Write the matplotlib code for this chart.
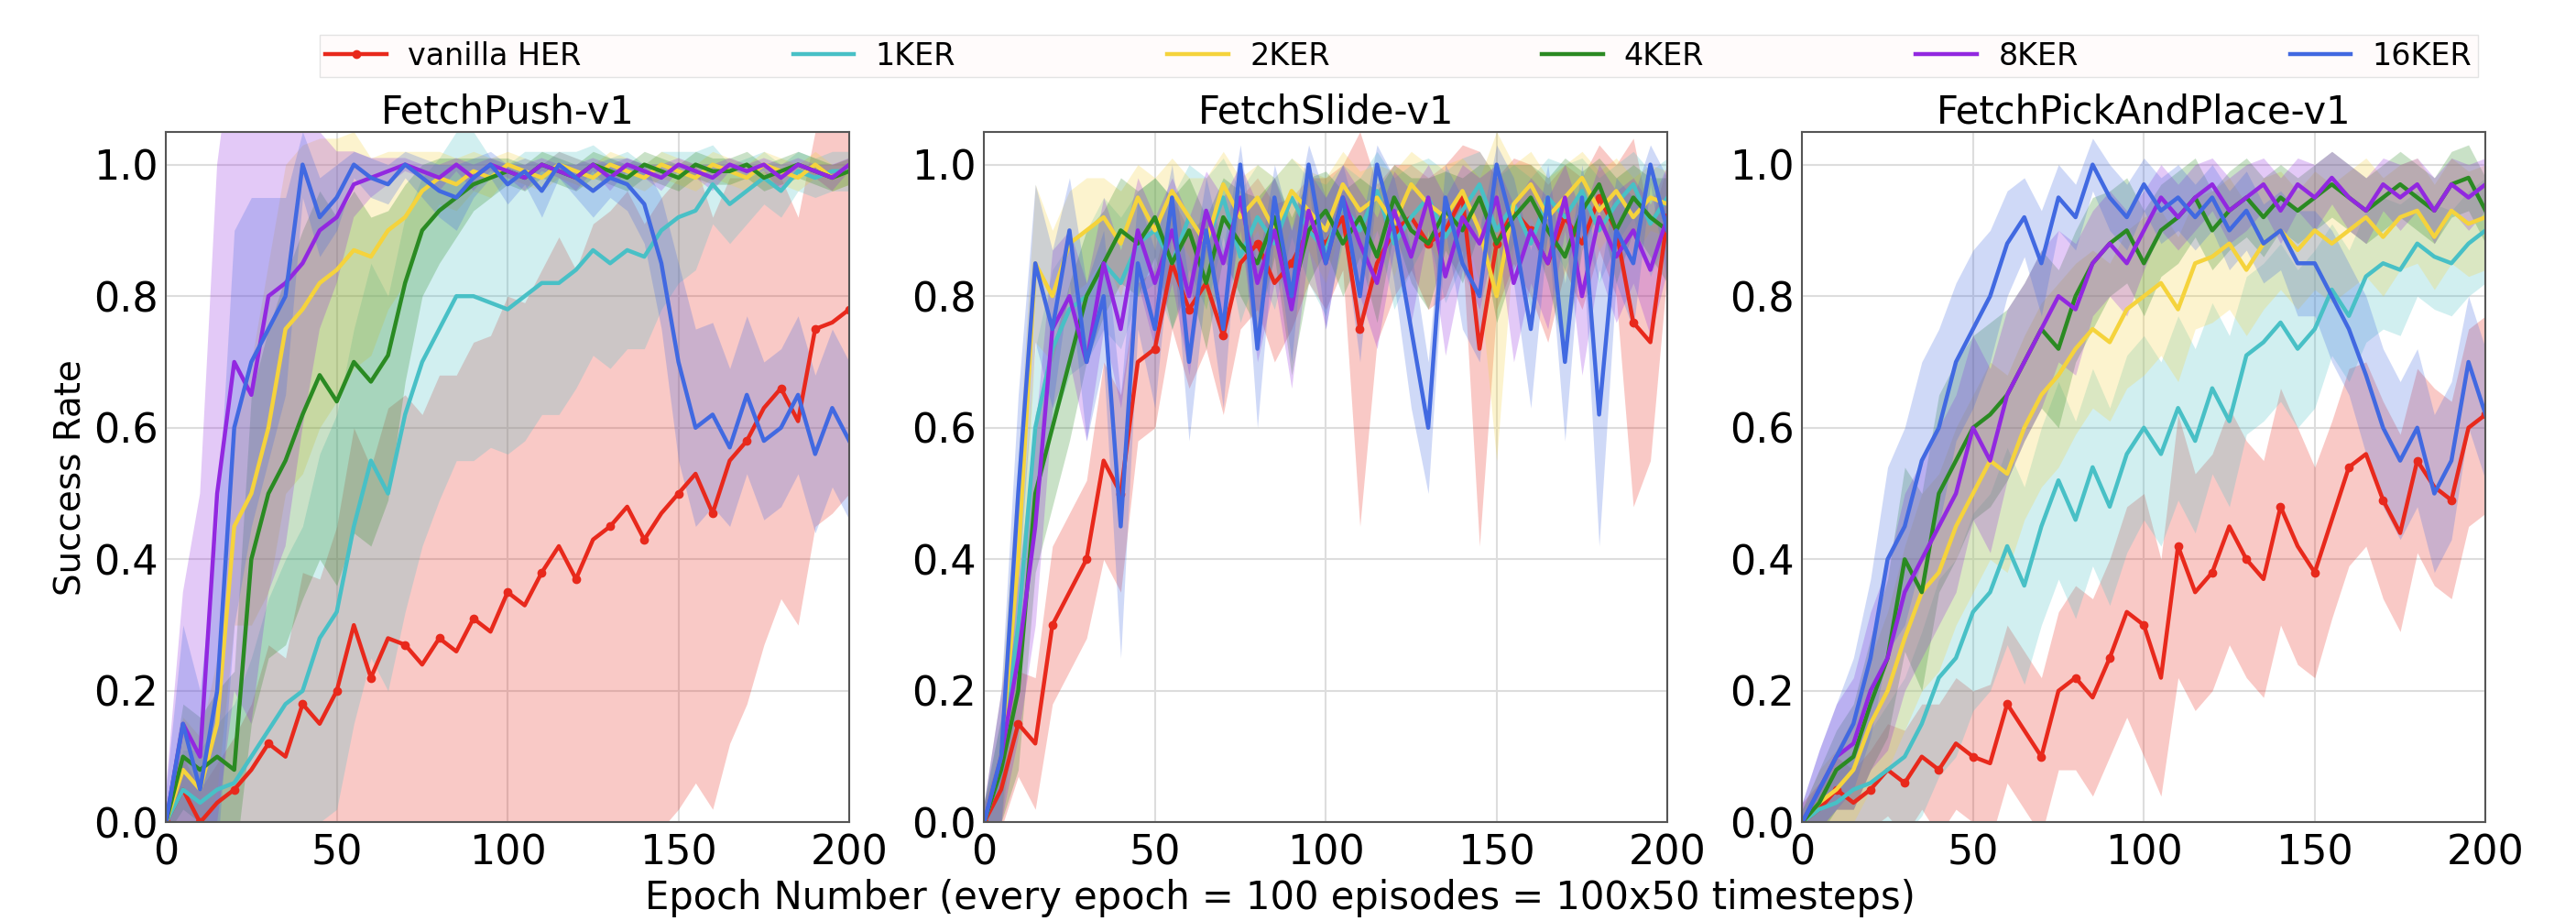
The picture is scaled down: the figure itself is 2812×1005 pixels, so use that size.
import numpy as np
import matplotlib
matplotlib.use('Agg')
import matplotlib.pyplot as plt

# epochs sampled every 5
epochs = list(range(0, 201, 5))

labels = ['vanilla HER', '1KER', '2KER', '4KER', '8KER', '16KER']
colors = ['#e8291c', '#48c0c6', '#f5d33c', '#2a8a22', '#9228e0', '#4169e1']
titles = ['FetchPush-v1', 'FetchSlide-v1', 'FetchPickAndPlace-v1']

# --- FetchPush-v1 ---
push_her = [0.0, 0.05, 0.0, 0.03, 0.05, 0.08, 0.12, 0.10, 0.18, 0.15, 0.20, 0.30, 0.22, 0.28,
            0.27, 0.24, 0.28, 0.26, 0.31, 0.29, 0.35, 0.33, 0.38, 0.42, 0.37, 0.43, 0.45, 0.48,
            0.43, 0.47, 0.50, 0.53, 0.47, 0.55, 0.58, 0.63, 0.66, 0.61, 0.75, 0.76, 0.78]
push_her_sd = [0.02, 0.05, 0.05, 0.06, 0.08, 0.10, 0.15, 0.15, 0.20, 0.22, 0.25, 0.30, 0.32, 0.35,
               0.38, 0.38, 0.40, 0.42, 0.42, 0.45, 0.45, 0.46, 0.46, 0.47, 0.47, 0.48, 0.48, 0.48,
               0.48, 0.48, 0.48, 0.47, 0.45, 0.43, 0.40, 0.36, 0.32, 0.31, 0.30, 0.29, 0.28]
push_1k = [0.0, 0.05, 0.03, 0.05, 0.06, 0.10, 0.14, 0.18, 0.20, 0.28, 0.32, 0.45, 0.55, 0.50,
           0.62, 0.70, 0.75, 0.80, 0.80, 0.79, 0.78, 0.80, 0.82, 0.82, 0.84, 0.87, 0.85, 0.87,
           0.86, 0.90, 0.92, 0.93, 0.97, 0.94, 0.96, 0.98, 0.96, 0.99, 0.98, 0.99, 0.99]
push_1k_sd = [0.02, 0.06, 0.08, 0.10, 0.12, 0.15, 0.20, 0.22, 0.25, 0.28, 0.30, 0.30, 0.30, 0.30,
              0.30, 0.28, 0.26, 0.25, 0.25, 0.22, 0.22, 0.22, 0.20, 0.20, 0.18, 0.16, 0.16, 0.15,
              0.14, 0.12, 0.10, 0.09, 0.06, 0.06, 0.05, 0.04, 0.04, 0.03, 0.03, 0.03, 0.03]
push_2k = [0.0, 0.08, 0.05, 0.15, 0.45, 0.50, 0.60, 0.75, 0.78, 0.82, 0.84, 0.87, 0.86, 0.90,
           0.92, 0.96, 0.98, 0.97, 0.99, 0.98, 1.0, 0.99, 0.98, 1.0, 0.99, 0.98, 1.0, 0.99,
           0.98, 1.0, 0.99, 0.98, 1.0, 0.99, 0.98, 1.0, 0.99, 0.98, 1.0, 0.98, 0.99]
push_2k_sd = [0.02, 0.08, 0.08, 0.10, 0.15, 0.20, 0.25, 0.25, 0.25, 0.22, 0.20, 0.18, 0.15, 0.12,
              0.10, 0.06, 0.04, 0.04, 0.03, 0.03, 0.02, 0.02, 0.02, 0.02, 0.02, 0.02, 0.02, 0.02,
              0.02, 0.02, 0.02, 0.02, 0.02, 0.02, 0.02, 0.02, 0.02, 0.02, 0.02, 0.02, 0.02]
push_4k = [0.0, 0.10, 0.08, 0.10, 0.08, 0.40, 0.50, 0.55, 0.62, 0.68, 0.64, 0.70, 0.67, 0.71,
           0.82, 0.90, 0.93, 0.95, 0.97, 0.98, 0.99, 0.98, 1.0, 0.99, 0.98, 1.0, 0.99, 0.98,
           1.0, 0.99, 0.98, 1.0, 0.99, 0.99, 1.0, 0.98, 0.99, 1.0, 0.99, 0.98, 0.99]
push_4k_sd = [0.02, 0.08, 0.08, 0.10, 0.15, 0.25, 0.25, 0.28, 0.28, 0.28, 0.28, 0.26, 0.25, 0.22,
              0.15, 0.10, 0.08, 0.06, 0.04, 0.03, 0.02, 0.02, 0.02, 0.02, 0.02, 0.02, 0.02, 0.02,
              0.02, 0.02, 0.02, 0.02, 0.02, 0.02, 0.02, 0.02, 0.02, 0.02, 0.02, 0.02, 0.02]
push_8k = [0.0, 0.15, 0.10, 0.50, 0.70, 0.65, 0.80, 0.82, 0.85, 0.90, 0.92, 0.97, 0.98, 0.99,
           1.0, 0.99, 0.98, 1.0, 0.98, 1.0, 0.99, 0.98, 1.0, 0.99, 0.98, 1.0, 0.98, 1.0,
           0.99, 0.98, 1.0, 0.99, 0.98, 1.0, 0.99, 1.0, 0.98, 1.0, 0.99, 0.98, 1.0]
push_8k_sd = [0.05, 0.20, 0.40, 0.50, 0.50, 0.50, 0.45, 0.40, 0.25, 0.15, 0.10, 0.05, 0.03, 0.02,
              0.01, 0.01, 0.02, 0.01, 0.02, 0.01, 0.01, 0.02, 0.01, 0.01, 0.02, 0.01, 0.02, 0.01,
              0.01, 0.02, 0.01, 0.01, 0.02, 0.01, 0.01, 0.01, 0.02, 0.01, 0.01, 0.02, 0.01]
push_16k = [0.0, 0.15, 0.05, 0.20, 0.60, 0.70, 0.75, 0.80, 1.0, 0.92, 0.95, 1.0, 0.98, 0.97,
            1.0, 0.98, 0.96, 0.95, 0.98, 1.0, 0.97, 0.99, 0.96, 1.0, 0.98, 0.96, 0.98, 0.97,
            0.94, 0.85, 0.70, 0.60, 0.62, 0.57, 0.65, 0.58, 0.60, 0.65, 0.56, 0.63, 0.58]
push_16k_sd = [0.05, 0.15, 0.15, 0.25, 0.30, 0.25, 0.20, 0.15, 0.05, 0.06, 0.05, 0.02, 0.03, 0.03,
               0.02, 0.03, 0.04, 0.05, 0.03, 0.02, 0.03, 0.02, 0.04, 0.02, 0.03, 0.04, 0.03, 0.04,
               0.06, 0.10, 0.15, 0.15, 0.14, 0.12, 0.12, 0.12, 0.12, 0.12, 0.12, 0.12, 0.12]

# --- FetchSlide-v1 ---
slide_her = [0.0, 0.05, 0.15, 0.12, 0.30, 0.35, 0.40, 0.55, 0.50, 0.70, 0.72, 0.85, 0.78, 0.82,
             0.74, 0.85, 0.88, 0.82, 0.85, 0.90, 0.88, 0.92, 0.75, 0.85, 0.90, 0.92, 0.88, 0.90,
             0.95, 0.72, 0.88, 0.93, 0.90, 0.85, 0.92, 0.88, 0.95, 0.90, 0.76, 0.73, 0.92]
slide_her_sd = [0.03, 0.06, 0.08, 0.10, 0.12, 0.12, 0.12, 0.15, 0.15, 0.12, 0.12, 0.10, 0.12, 0.10,
                0.12, 0.10, 0.10, 0.12, 0.10, 0.08, 0.10, 0.08, 0.30, 0.12, 0.10, 0.08, 0.10, 0.10,
                0.08, 0.30, 0.10, 0.08, 0.10, 0.12, 0.08, 0.10, 0.08, 0.10, 0.28, 0.18, 0.08]
slide_1k = [0.0, 0.08, 0.30, 0.60, 0.72, 0.78, 0.80, 0.85, 0.82, 0.88, 0.90, 0.85, 0.92, 0.88,
            0.95, 0.86, 0.92, 0.88, 0.95, 0.90, 0.87, 0.94, 0.90, 0.96, 0.88, 0.92, 0.95, 0.89,
            0.93, 0.97, 0.90, 0.94, 0.88, 0.95, 0.92, 0.96, 0.90, 0.94, 0.97, 0.91, 0.95]
slide_1k_sd = [0.03, 0.08, 0.10, 0.12, 0.12, 0.10, 0.10, 0.10, 0.10, 0.08, 0.08, 0.10, 0.08, 0.10,
               0.06, 0.10, 0.08, 0.10, 0.06, 0.08, 0.10, 0.06, 0.08, 0.06, 0.10, 0.08, 0.06, 0.10,
               0.08, 0.05, 0.08, 0.06, 0.10, 0.06, 0.08, 0.05, 0.08, 0.06, 0.05, 0.08, 0.06]
slide_2k = [0.0, 0.10, 0.40, 0.85, 0.80, 0.88, 0.90, 0.92, 0.88, 0.95, 0.90, 0.96, 0.92, 0.88,
            0.97, 0.92, 0.95, 0.90, 0.96, 0.93, 0.90, 0.97, 0.93, 0.95, 0.91, 0.97, 0.94, 0.92,
            0.96, 0.90, 0.80, 0.94, 0.97, 0.92, 0.95, 0.98, 0.93, 0.96, 0.92, 0.95, 0.94]
slide_2k_sd = [0.03, 0.10, 0.15, 0.12, 0.10, 0.08, 0.08, 0.06, 0.08, 0.05, 0.08, 0.05, 0.06, 0.10,
               0.05, 0.06, 0.05, 0.08, 0.05, 0.06, 0.08, 0.05, 0.06, 0.05, 0.08, 0.05, 0.06, 0.08,
               0.05, 0.08, 0.25, 0.06, 0.05, 0.06, 0.05, 0.04, 0.06, 0.05, 0.06, 0.05, 0.05]
slide_4k = [0.0, 0.08, 0.20, 0.50, 0.60, 0.70, 0.80, 0.85, 0.90, 0.88, 0.92, 0.85, 0.90, 0.82,
            0.92, 0.88, 0.85, 0.92, 0.80, 0.90, 0.93, 0.88, 0.92, 0.86, 0.95, 0.90, 0.88, 0.93,
            0.90, 0.95, 0.88, 0.92, 0.95, 0.90, 0.86, 0.93, 0.97, 0.90, 0.95, 0.92, 0.90]
slide_4k_sd = [0.03, 0.08, 0.12, 0.12, 0.12, 0.12, 0.10, 0.08, 0.08, 0.08, 0.06, 0.10, 0.08, 0.10,
               0.06, 0.08, 0.10, 0.06, 0.12, 0.08, 0.06, 0.08, 0.06, 0.10, 0.05, 0.08, 0.10, 0.06,
               0.08, 0.05, 0.12, 0.08, 0.05, 0.08, 0.15, 0.06, 0.04, 0.08, 0.05, 0.06, 0.08]
slide_8k = [0.0, 0.10, 0.25, 0.45, 0.75, 0.80, 0.70, 0.85, 0.75, 0.90, 0.82, 0.90, 0.80, 0.93,
            0.85, 0.95, 0.82, 0.90, 0.78, 0.93, 0.85, 0.95, 0.88, 0.82, 0.93, 0.86, 0.95, 0.83,
            0.92, 0.88, 0.95, 0.82, 0.90, 0.85, 0.95, 0.80, 0.92, 0.86, 0.90, 0.84, 0.92]
slide_8k_sd = [0.03, 0.10, 0.12, 0.15, 0.12, 0.10, 0.12, 0.10, 0.12, 0.08, 0.10, 0.08, 0.12, 0.06,
               0.10, 0.05, 0.12, 0.08, 0.12, 0.06, 0.10, 0.05, 0.08, 0.10, 0.06, 0.10, 0.05, 0.12,
               0.08, 0.10, 0.05, 0.12, 0.08, 0.10, 0.05, 0.12, 0.08, 0.10, 0.08, 0.10, 0.08]
slide_16k = [0.0, 0.10, 0.50, 0.85, 0.75, 0.90, 0.70, 0.80, 0.45, 0.85, 0.75, 0.95, 0.70, 0.90,
             0.75, 1.0, 0.72, 0.95, 0.80, 1.0, 0.85, 0.95, 0.80, 1.0, 0.90, 0.75, 0.60, 0.95,
             0.85, 0.80, 1.0, 0.90, 0.75, 0.95, 0.70, 0.95, 0.62, 0.90, 0.85, 1.0, 0.90]
slide_16k_sd = [0.03, 0.10, 0.15, 0.12, 0.12, 0.08, 0.12, 0.10, 0.20, 0.10, 0.12, 0.05, 0.12, 0.08,
                0.12, 0.03, 0.12, 0.05, 0.10, 0.03, 0.10, 0.05, 0.10, 0.03, 0.08, 0.12, 0.10, 0.05,
                0.10, 0.10, 0.03, 0.08, 0.12, 0.05, 0.12, 0.05, 0.20, 0.08, 0.10, 0.03, 0.08]

# --- FetchPickAndPlace-v1 ---
pick_her = [0.0, 0.02, 0.05, 0.03, 0.05, 0.08, 0.06, 0.10, 0.08, 0.12, 0.10, 0.09, 0.18, 0.14,
            0.10, 0.20, 0.22, 0.19, 0.25, 0.32, 0.30, 0.22, 0.42, 0.35, 0.38, 0.45, 0.40, 0.37,
            0.48, 0.42, 0.38, 0.46, 0.54, 0.56, 0.49, 0.44, 0.55, 0.51, 0.49, 0.60, 0.62]
pick_her_sd = [0.03, 0.04, 0.05, 0.05, 0.06, 0.07, 0.08, 0.08, 0.10, 0.10, 0.10, 0.12, 0.12, 0.12,
               0.12, 0.12, 0.14, 0.15, 0.15, 0.16, 0.20, 0.18, 0.20, 0.18, 0.18, 0.18, 0.18, 0.18,
               0.18, 0.18, 0.16, 0.15, 0.15, 0.14, 0.15, 0.15, 0.14, 0.15, 0.15, 0.15, 0.15]
pick_1k = [0.0, 0.02, 0.03, 0.05, 0.06, 0.08, 0.10, 0.15, 0.22, 0.25, 0.32, 0.35, 0.42, 0.36,
           0.45, 0.52, 0.46, 0.54, 0.48, 0.56, 0.60, 0.56, 0.63, 0.58, 0.66, 0.61, 0.71, 0.73,
           0.76, 0.72, 0.75, 0.81, 0.77, 0.83, 0.85, 0.84, 0.88, 0.86, 0.85, 0.88, 0.90]
pick_1k_sd = [0.02, 0.04, 0.05, 0.06, 0.08, 0.10, 0.12, 0.14, 0.15, 0.15, 0.15, 0.15, 0.15, 0.15,
              0.15, 0.15, 0.15, 0.15, 0.15, 0.15, 0.14, 0.14, 0.14, 0.14, 0.13, 0.13, 0.12, 0.12,
              0.12, 0.12, 0.12, 0.10, 0.10, 0.10, 0.10, 0.10, 0.08, 0.08, 0.08, 0.08, 0.08]
pick_2k = [0.0, 0.03, 0.05, 0.08, 0.15, 0.20, 0.28, 0.35, 0.38, 0.45, 0.50, 0.55, 0.53, 0.60,
           0.65, 0.68, 0.72, 0.75, 0.73, 0.78, 0.80, 0.82, 0.78, 0.85, 0.86, 0.88, 0.84, 0.88,
           0.90, 0.87, 0.90, 0.88, 0.90, 0.92, 0.89, 0.92, 0.93, 0.89, 0.93, 0.91, 0.92]
pick_2k_sd = [0.02, 0.05, 0.06, 0.08, 0.10, 0.12, 0.14, 0.15, 0.15, 0.15, 0.15, 0.15, 0.15, 0.14,
              0.14, 0.14, 0.13, 0.12, 0.12, 0.12, 0.12, 0.11, 0.11, 0.10, 0.10, 0.10, 0.10, 0.10,
              0.09, 0.09, 0.09, 0.09, 0.09, 0.09, 0.09, 0.08, 0.08, 0.08, 0.08, 0.08, 0.08]
pick_4k = [0.0, 0.03, 0.08, 0.10, 0.18, 0.25, 0.40, 0.35, 0.50, 0.55, 0.60, 0.62, 0.65, 0.70,
           0.75, 0.72, 0.80, 0.85, 0.88, 0.90, 0.85, 0.90, 0.92, 0.95, 0.90, 0.93, 0.95, 0.92,
           0.95, 0.93, 0.95, 0.97, 0.95, 0.93, 0.95, 0.97, 0.95, 0.93, 0.97, 0.98, 0.93]
pick_4k_sd = [0.02, 0.05, 0.06, 0.08, 0.10, 0.12, 0.14, 0.15, 0.15, 0.15, 0.14, 0.14, 0.13, 0.12,
              0.12, 0.12, 0.10, 0.10, 0.08, 0.08, 0.08, 0.07, 0.07, 0.06, 0.06, 0.06, 0.06, 0.06,
              0.05, 0.05, 0.05, 0.05, 0.05, 0.05, 0.05, 0.05, 0.05, 0.05, 0.05, 0.05, 0.05]
pick_8k = [0.0, 0.05, 0.10, 0.12, 0.20, 0.25, 0.35, 0.40, 0.45, 0.50, 0.60, 0.55, 0.65, 0.70,
           0.75, 0.80, 0.78, 0.85, 0.88, 0.85, 0.90, 0.95, 0.92, 0.95, 0.97, 0.93, 0.95, 0.97,
           0.93, 0.97, 0.95, 0.98, 0.95, 0.93, 0.97, 0.95, 0.97, 0.93, 0.97, 0.95, 0.97]
pick_8k_sd = [0.03, 0.06, 0.08, 0.10, 0.12, 0.14, 0.15, 0.15, 0.15, 0.15, 0.14, 0.14, 0.13, 0.12,
              0.12, 0.10, 0.10, 0.08, 0.08, 0.08, 0.06, 0.05, 0.05, 0.05, 0.04, 0.05, 0.05, 0.04,
              0.05, 0.04, 0.05, 0.04, 0.05, 0.05, 0.04, 0.05, 0.04, 0.05, 0.04, 0.05, 0.04]
pick_16k = [0.0, 0.05, 0.10, 0.15, 0.25, 0.40, 0.45, 0.55, 0.60, 0.70, 0.75, 0.80, 0.88, 0.92,
            0.85, 0.95, 0.92, 1.0, 0.95, 0.92, 0.97, 0.93, 0.95, 0.92, 0.95, 0.90, 0.93, 0.88,
            0.90, 0.85, 0.85, 0.80, 0.75, 0.68, 0.60, 0.55, 0.60, 0.50, 0.55, 0.70, 0.62]
pick_16k_sd = [0.03, 0.06, 0.08, 0.10, 0.12, 0.14, 0.15, 0.15, 0.15, 0.12, 0.12, 0.10, 0.08, 0.06,
               0.08, 0.05, 0.05, 0.04, 0.05, 0.05, 0.04, 0.05, 0.05, 0.05, 0.05, 0.06, 0.06, 0.06,
               0.06, 0.08, 0.08, 0.10, 0.10, 0.12, 0.12, 0.12, 0.12, 0.12, 0.12, 0.10, 0.10]

panels = [
    [(push_her, push_her_sd), (push_1k, push_1k_sd), (push_2k, push_2k_sd),
     (push_4k, push_4k_sd), (push_8k, push_8k_sd), (push_16k, push_16k_sd)],
    [(slide_her, slide_her_sd), (slide_1k, slide_1k_sd), (slide_2k, slide_2k_sd),
     (slide_4k, slide_4k_sd), (slide_8k, slide_8k_sd), (slide_16k, slide_16k_sd)],
    [(pick_her, pick_her_sd), (pick_1k, pick_1k_sd), (pick_2k, pick_2k_sd),
     (pick_4k, pick_4k_sd), (pick_8k, pick_8k_sd), (pick_16k, pick_16k_sd)],
]

fig = plt.figure(figsize=(28.12, 10.05), dpi=100)
lefts = [0.0644, 0.382, 0.6996]
width = 0.2653
bottom, height = 0.107, 0.75

x = np.array(epochs)
handles = []
for p, (series, title) in enumerate(zip(panels, titles)):
    ax = fig.add_axes([lefts[p], bottom, width, height])
    for i, (m, sd) in enumerate(series):
        m = np.array(m)
        sd = np.array(sd)
        ax.fill_between(x, m - sd, m + sd, color=colors[i], alpha=0.25, linewidth=0)
        if i == 0:
            ln, = ax.plot(x, m, color=colors[i], lw=3.2, marker='o', markersize=6,
                          markevery=2, label=labels[i])
        else:
            ln, = ax.plot(x, m, color=colors[i], lw=3.2, label=labels[i])
        if p == 0:
            handles.append(ln)
    ax.set_xlim(0, 200)
    ax.set_ylim(0, 1.05)
    ax.set_xticks([0, 50, 100, 150, 200])
    ax.set_yticks([0.0, 0.2, 0.4, 0.6, 0.8, 1.0])
    ax.tick_params(labelsize=32, length=0)
    ax.tick_params(axis='x', pad=9)
    ax.tick_params(axis='y', pad=6)
    ax.grid(True, color='#dddddd', linewidth=1.5)
    ax.set_axisbelow(True)
    for s in ax.spines.values():
        s.set_color('#555555')
        s.set_linewidth(1.5)
    ax.set_title(title, fontsize=30, pad=3)
    if p == 0:
        ax.set_ylabel('Success Rate', fontsize=28, labelpad=4)

fig.text(0.497, 0.025, 'Epoch Number (every epoch = 100 episodes = 100x50 timesteps)',
         ha='center', va='center', fontsize=30)

leg = fig.legend(handles=handles, loc='center left', bbox_to_anchor=(0.124, 0.939, 0.838, 0.0),
                 mode='expand', ncol=6, fontsize=24, handlelength=2.0, handletextpad=0.7,
                 frameon=True, borderaxespad=0, borderpad=0.2, fancybox=False)
leg.get_frame().set_facecolor('#fffafa')
leg.get_frame().set_edgecolor('#dddddd')

plt.savefig('out.png', dpi=100)
